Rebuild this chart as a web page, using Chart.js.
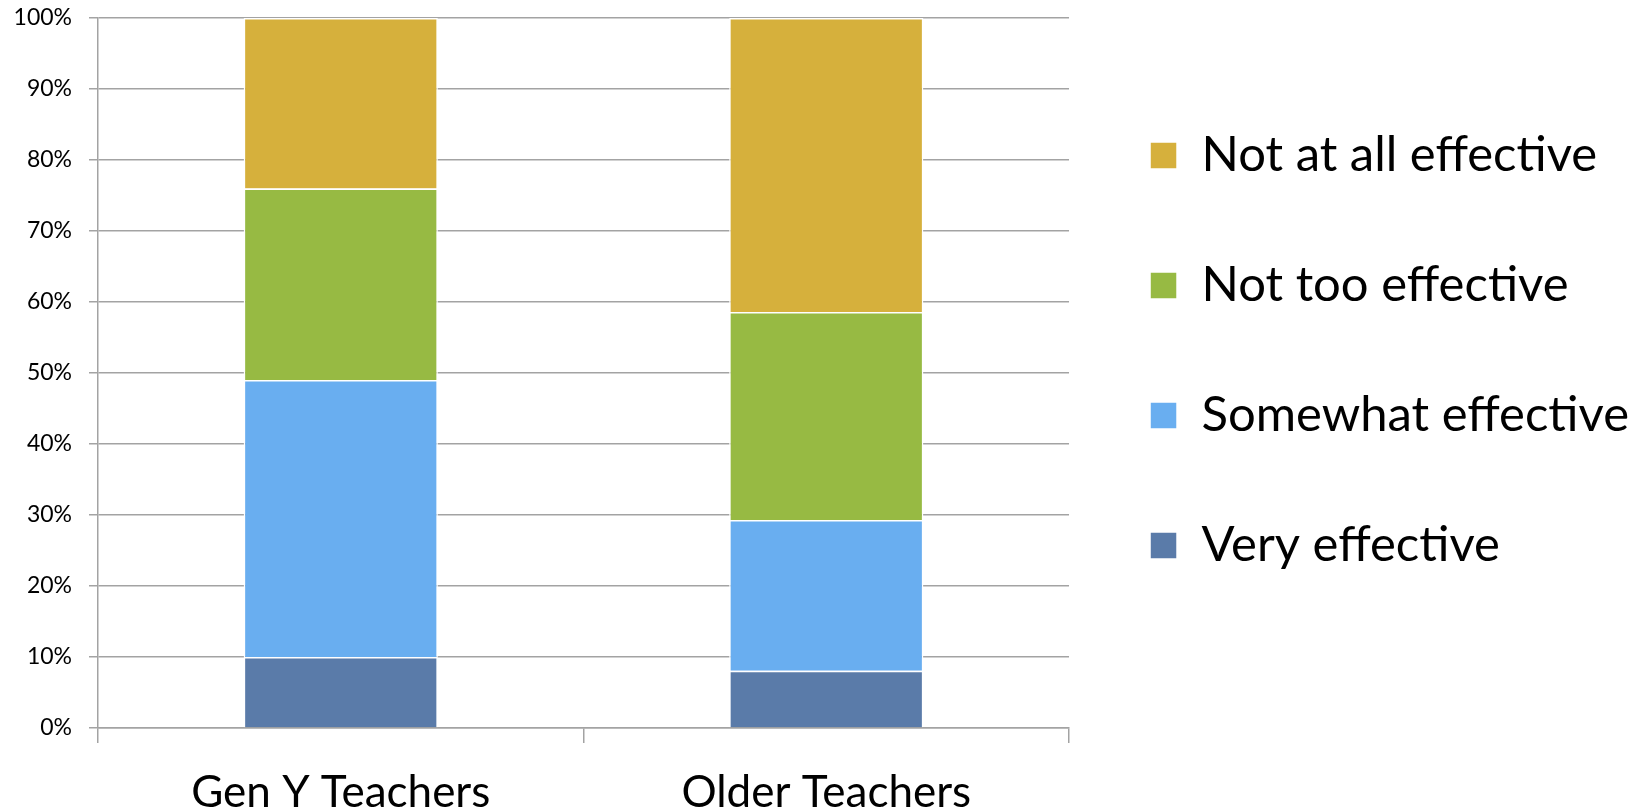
<!DOCTYPE html>
<html>
<head>
<meta charset="utf-8">
<script src="https://cdn.jsdelivr.net/npm/chart.js@4.4.0/dist/chart.umd.min.js"></script>
<style>
    body { margin: 0; background: #fff; }
    #wrap { width: 1647px; height: 812px; }
</style>
</head>
<body>
<div id="wrap"><canvas id="bar-chart"></canvas></div>
<script>
// categories and answers (percent of teachers)
let groups = ['Gen Y Teachers', 'Older Teachers'];

let veryEffective = [10, 8];
let somewhatEffective = [39, 21];
let notTooEffective = [27, 29];
let notAtAllEffective = [24, 41];

let seriesNames = ['Very effective', 'Somewhat effective', 'Not too effective', 'Not at all effective'];
let seriesColors = ['#5a7ba9', '#69aef0', '#97ba43', '#d6b03c'];

// 100% stacked, so each column is scaled to its own total
let totals = groups.map((g, i) =>
    veryEffective[i] + somewhatEffective[i] + notTooEffective[i] + notAtAllEffective[i]);

function toPercent(values) {
    return values.map((v, i) => v / totals[i] * 100);
}

let allSeries = [veryEffective, somewhatEffective, notTooEffective, notAtAllEffective];

let datasets = [];
for (let i = 0; i < allSeries.length; i++) {
    datasets.push({
        label: seriesNames[i],
        data: toPercent(allSeries[i]),
        backgroundColor: seriesColors[i],
        borderColor: '#ffffff',
        borderWidth: 1.5,
        barPercentage: 0.4,
        categoryPercentage: 1
    });
}

let gridGray = '#a3a3a3';

new Chart(document.getElementById('bar-chart'), {
    type: 'bar',
    data: {
        labels: groups,
        datasets: datasets
    },
    options: {
        responsive: true,
        maintainAspectRatio: false,
        animation: false,
        layout: {
            padding: { left: 14, right: 8, top: 18, bottom: 1 }
        },
        scales: {
            x: {
                stacked: true,
                afterFit: scale => {
                    scale.height = 83;
                },
                grid: {
                    offset: true,
                    drawOnChartArea: false,
                    color: gridGray,
                    lineWidth: 1.5,
                    tickLength: 15
                },
                border: { color: gridGray, width: 1.5 },
                ticks: {
                    color: '#000',
                    padding: 23,
                    font: { family: 'Lato', size: 44 }
                }
            },
            y: {
                stacked: true,
                min: 0,
                max: 100,
                afterFit: scale => {
                    scale.width = 84;
                    scale.paddingTop = 0;
                    scale.paddingBottom = 0;
                },
                grid: {
                    color: gridGray,
                    lineWidth: 1.5,
                    tickLength: 9
                },
                border: { color: gridGray, width: 1.5 },
                ticks: {
                    stepSize: 10,
                    color: '#000',
                    padding: 17,
                    font: { family: 'Lato', size: 23 },
                    callback: v => v + '%'
                }
            }
        },
        plugins: {
            tooltip: { enabled: false },
            legend: {
                position: 'right',
                align: 'start',
                fullSize: false,
                reverse: true,
                maxWidth: 620,
                title: { display: true, text: '', font: { size: 32, lineHeight: 1 }, padding: 0 },
                labels: {
                    color: '#000',
                    boxWidth: 27,
                    boxHeight: 27,
                    padding: 81,
                    font: { family: 'Lato', size: 49 }
                }
            }
        }
    }
});
</script>
</body>
</html>
